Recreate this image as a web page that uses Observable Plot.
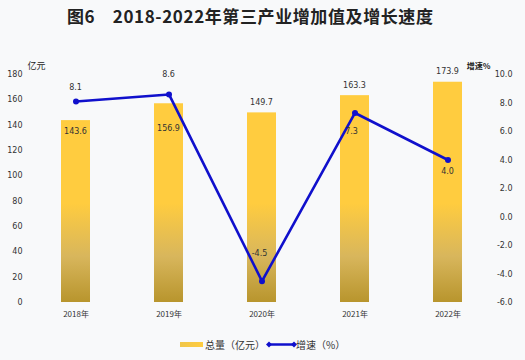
<!DOCTYPE html>
<html>
<head>
<meta charset="utf-8">
<script src="https://cdn.jsdelivr.net/npm/d3@7"></script>
<script src="https://cdn.jsdelivr.net/npm/@observablehq/plot@0.6"></script>
<style>
  html, body { margin: 0; padding: 0; background: #f8f9fa; }
  body { width: 525px; height: 360px; position: relative; overflow: hidden; font-family: "Noto Sans CJK SC", "DejaVu Sans", sans-serif; }
  #title { position: absolute; left: 67px; top: 3px; text-align: left; font-size: 17px; font-weight: bold; color: #222; white-space: pre; letter-spacing: 0.6px; }
  #chart { position: absolute; left: 0; top: 40px; }
  #legend { position: absolute; left: 0; top: 335px; width: 525px; height: 20px; font-size: 10px; color: #333; }
  #legend span { position: absolute; top: 2px; white-space: nowrap; }
</style>
</head>
<body>
<div id="title">图6　2018-2022年第三产业增加值及增长速度</div>
<div id="chart"></div>
<div id="legend">
  <svg width="525" height="20" style="position:absolute;left:0;top:0">
    <defs>
      <linearGradient id="lg" x1="0" y1="0" x2="1" y2="0">
        <stop offset="0" stop-color="#f0c64a"/><stop offset="1" stop-color="#ffcc3f"/>
      </linearGradient>
    </defs>
    <rect x="180" y="7" width="23" height="5" fill="url(#lg)"/>
    <line x1="269" y1="9.5" x2="294" y2="9.5" stroke="#1010cc" stroke-width="2.5"/>
    <path d="M269 6.5 L272 9.5 L269 12.5 L266 9.5 Z" fill="#1010cc"/>
    <path d="M294 6.5 L297 9.5 L294 12.5 L291 9.5 Z" fill="#1010cc"/>
  </svg>
  <span style="left:205px">总量（亿元）</span>
  <span style="left:296px">增速（%）</span>
</div>
<script>
const years = ["2018年", "2019年", "2020年", "2021年", "2022年"];
const totals = [143.6, 156.9, 149.7, 163.3, 173.9];
const growth = [8.1, 8.6, -4.5, 7.3, 4.0];
const leftTicks = [0, 20, 40, 60, 80, 100, 120, 140, 160, 180];
const rightTicks = [-6, -4, -2, 0, 2, 4, 6, 8, 10];

// label placement (styling, not data)
const barLabelDy = [11, 25, -10, -10, -10];
const growthLabelDy = [-14, -20, -27, 19, 12];
const growthLabelDx = [0, 0, -2, -3, 0];

const gMin = -6, gMax = 10, yMax = 180;
const toY = g => (g - gMin) / (gMax - gMin) * yMax;
const fromY = v => v / yMax * (gMax - gMin) + gMin;

const rows = years.map((year, i) => ({year, total: totals[i], growth: growth[i], gy: toY(growth[i]), i}));

const numFont = "DejaVu Sans, sans-serif";
const blue = "#1010cc";

const plot = Plot.plot({
  width: 525,
  height: 290,
  marginTop: 34,
  marginBottom: 28,
  marginLeft: 28,
  marginRight: 31,
  style: { background: "transparent", fontFamily: numFont, fontSize: "8px", color: "#333" },
  x: { domain: years, paddingInner: 0.69, paddingOuter: 0.35, axis: null },
  y: { domain: [0, yMax], axis: null },
  marks: [
    Plot.axisX({ tickSize: 0, tickPadding: 9, fontSize: 8, fontFamily: "Noto Sans CJK SC, sans-serif", label: null, fill: "#333" }),
    Plot.axisY({ anchor: "left", ticks: leftTicks, tickSize: 0, tickPadding: 6, label: null, fontSize: 8, fill: "#333" }),
    Plot.axisY({ anchor: "right", ticks: rightTicks.map(toY), tickFormat: v => fromY(v).toFixed(1), tickSize: 0, tickPadding: 18, textAnchor: "end", label: null, fontSize: 8, fill: "#333" }),
    Plot.barY(rows, { x: "year", y: "total", fill: "url(#barGrad)" }),
    Plot.line(rows, { x: "year", y: "gy", stroke: blue, strokeWidth: 2.6 }),
    Plot.dot(rows, { x: "year", y: "gy", r: 3, fill: blue, stroke: "none" }),
    Plot.text(["亿元"], { frameAnchor: "top-left", dx: -1, dy: -12, fontSize: 9, fontFamily: "Noto Sans CJK SC, sans-serif", fill: "#222" }),
    Plot.text(["增速%"], { frameAnchor: "top-right", dx: -4, dy: -11, fontSize: 8, fontWeight: "bold", fontFamily: "Noto Sans CJK SC, sans-serif", fill: "#222" })
  ]
});

// value labels with per-item offsets, positioned through the plot's scales
const y = plot.scale("y"), x = plot.scale("x");
const svg = d3.select(plot);
const bw = x.bandwidth;
const g = svg.append("g").attr("font-family", numFont).attr("font-size", 8).attr("fill", "#333").attr("text-anchor", "middle");
rows.forEach((d, i) => {
  const cx = x.apply(d.year) + bw / 2;
  g.append("text").attr("x", cx).attr("y", y.apply(d.total) + barLabelDy[i]).attr("dy", "0.32em").text(d.total.toFixed(1));
  g.append("text").attr("x", cx + growthLabelDx[i]).attr("y", y.apply(d.gy) + growthLabelDy[i]).attr("dy", "0.32em").text(d.growth.toFixed(1));
});
// gradient on bars
const defs = svg.insert("defs", ":first-child");
const grad = defs.append("linearGradient").attr("id", "barGrad").attr("gradientUnits", "userSpaceOnUse")
  .attr("x1", 0).attr("x2", 0).attr("y1", y.apply(yMax)).attr("y2", y.apply(0));
const yellowEnd = (yMax - 78) / yMax;
grad.append("stop").attr("offset", 0).attr("stop-color", "#ffcc3f");
grad.append("stop").attr("offset", yellowEnd).attr("stop-color", "#ffcc3f");
grad.append("stop").attr("offset", 0.8).attr("stop-color", "#d8b65c");
grad.append("stop").attr("offset", 1).attr("stop-color", "#b8952d");
svg.selectAll("g[aria-label='line'], g[aria-label='dot']").raise();
g.raise();

document.getElementById("chart").appendChild(plot);
</script>
</body>
</html>
